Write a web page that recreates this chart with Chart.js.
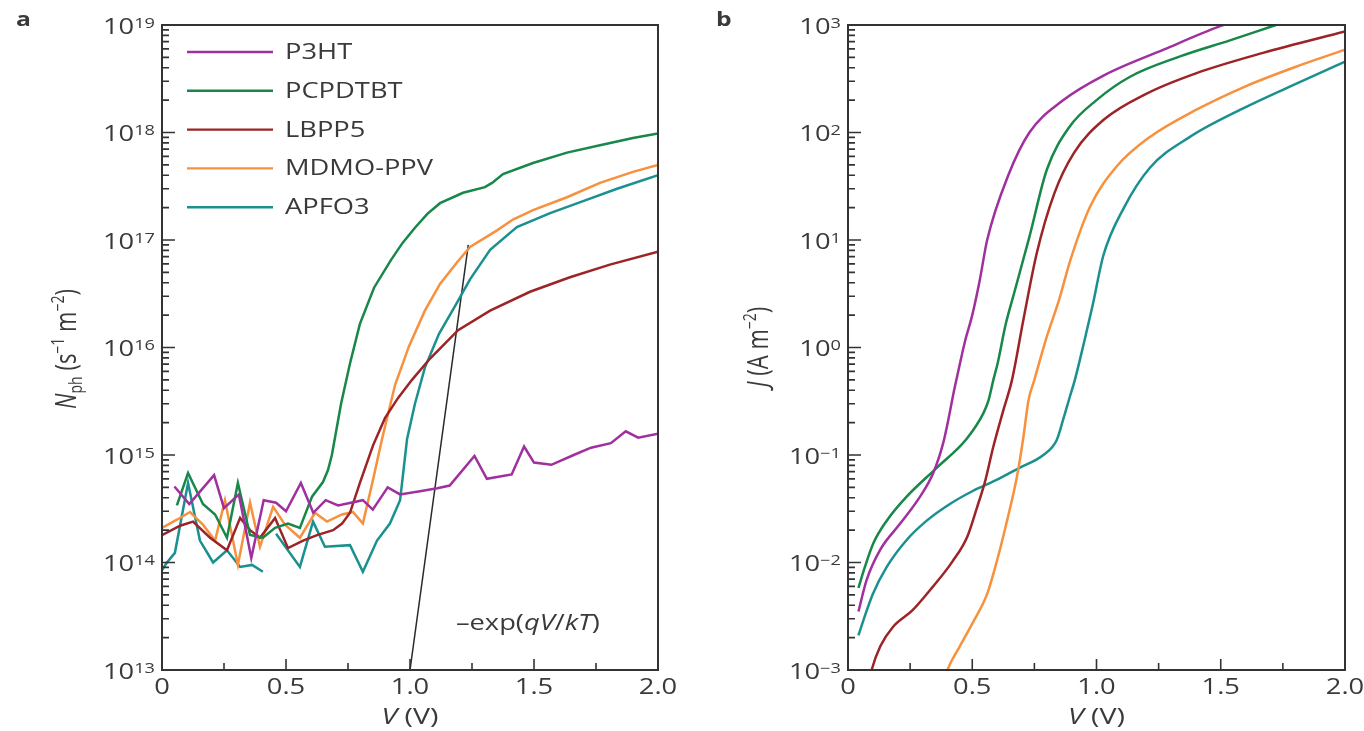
<!DOCTYPE html>
<html>
<head>
<meta charset="utf-8">
<script src="https://cdn.jsdelivr.net/npm/chart.js@4.4.1/dist/chart.umd.min.js"></script>
<style>
  body { margin: 0; background: #fff; }
  .panel { position: absolute; top: 0; width: 682px; height: 731px; }
</style>
</head>
<body>
<div class="panel" style="left:0"><canvas id="chartNph" width="682" height="731"></canvas></div>
<div class="panel" style="left:682px"><canvas id="chartJ" width="682" height="731"></canvas></div>
<script>
var series = ["P3HT", "PCPDTBT", "LBPP5", "MDMO-PPV", "APFO3"];
var colors = ["#a0309d", "#17874a", "#9c2426", "#f7913d", "#1b9090"];

// tick labels
var xTicks = [0, 0.5, 1.0, 1.5, 2.0];
var nphDecades = [13, 14, 15, 16, 17, 18, 19];
var jDecades = [-3, -2, -1, 0, 1, 2, 3];

// panel a: emitted photon flux vs voltage
var p3htV = [0.05, 0.11, 0.21, 0.25, 0.31, 0.36, 0.41, 0.46, 0.50, 0.56, 0.61, 0.66, 0.71, 0.81, 0.85, 0.91, 0.96, 1.04, 1.11, 1.16, 1.26, 1.31, 1.41, 1.46, 1.50, 1.57, 1.66, 1.73, 1.81, 1.87, 1.92, 2.00];
var p3htN = [5.1e14, 3.5e14, 6.5e14, 3.2e14, 4.3e14, 1.1e14, 3.8e14, 3.6e14, 3.0e14, 5.5e14, 2.9e14, 3.8e14, 3.4e14, 3.8e14, 3.1e14, 5.0e14, 4.3e14, 4.6e14, 4.9e14, 5.2e14, 9.8e14, 6.0e14, 6.6e14, 1.2e15, 8.5e14, 8.1e14, 1.0e15, 1.17e15, 1.29e15, 1.66e15, 1.45e15, 1.58e15];

var pcpdtbtV = [0.06, 0.105, 0.165, 0.214, 0.262, 0.306, 0.355, 0.407, 0.456, 0.508, 0.556, 0.605, 0.649, 0.669, 0.685, 0.722, 0.758, 0.798, 0.855, 0.923, 0.97, 1.02, 1.07, 1.121, 1.214, 1.302, 1.331, 1.375, 1.496, 1.633, 1.766, 1.899, 2.0];
var pcpdtbtN = [3.4e14, 6.8e14, 3.5e14, 2.8e14, 1.7e14, 5.5e14, 1.8e14, 1.7e14, 2.1e14, 2.3e14, 2.1e14, 4.1e14, 5.6e14, 7.2e14, 1.0e15, 3.0e15, 7.1e15, 1.66e16, 3.6e16, 6.5e16, 9.4e16, 1.3e17, 1.75e17, 2.2e17, 2.75e17, 3.1e17, 3.4e17, 4.1e17, 5.2e17, 6.5e17, 7.6e17, 8.9e17, 9.8e17];

var lbpp5V = [0, 0.073, 0.125, 0.194, 0.262, 0.315, 0.355, 0.395, 0.456, 0.508, 0.569, 0.625, 0.690, 0.726, 0.758, 0.798, 0.851, 0.899, 0.952, 1.008, 1.081, 1.194, 1.323, 1.484, 1.645, 1.806, 2.0];
var lbpp5N = [1.8e14, 2.2e14, 2.4e14, 1.7e14, 1.3e14, 2.6e14, 2.0e14, 1.7e14, 2.6e14, 1.36e14, 1.6e14, 1.8e14, 2.0e14, 2.3e14, 2.9e14, 5.5e14, 1.23e15, 2.2e15, 3.4e15, 5.0e15, 7.9e15, 1.45e16, 2.2e16, 3.3e16, 4.5e16, 5.9e16, 7.8e16];

var mdmoV = [0, 0.06, 0.113, 0.165, 0.214, 0.254, 0.306, 0.355, 0.395, 0.448, 0.496, 0.556, 0.617, 0.665, 0.726, 0.770, 0.810, 0.851, 0.887, 0.940, 0.996, 1.060, 1.121, 1.190, 1.242, 1.351, 1.415, 1.496, 1.633, 1.766, 1.899, 2.0];
var mdmoN = [2.1e14, 2.5e14, 2.95e14, 2.25e14, 1.6e14, 3.8e14, 9.5e13, 3.6e14, 1.4e14, 3.3e14, 2.25e14, 1.7e14, 2.9e14, 2.4e14, 2.8e14, 2.95e14, 2.3e14, 5.9e14, 1.4e15, 4.5e15, 1.03e16, 2.2e16, 3.9e16, 6.2e16, 8.6e16, 1.23e17, 1.55e17, 1.9e17, 2.5e17, 3.4e17, 4.3e17, 5.0e17];

var apfo3V = [0, 0.02, 0.052, 0.105, 0.153, 0.206, 0.262, 0.315, 0.363, 0.407, 0.43, 0.46, 0.556, 0.609, 0.657, 0.758, 0.810, 0.867, 0.919, 0.96, 0.988, 1.020, 1.060, 1.117, 1.185, 1.242, 1.323, 1.431, 1.565, 1.698, 1.835, 2.0];
var apfo3N = [8.5e13, 1.0e14, 1.23e14, 5.5e14, 1.6e14, 1.0e14, 1.3e14, 9.1e13, 9.5e13, 8.2e13, null, 1.85e14, 9.1e13, 2.4e14, 1.4e14, 1.45e14, 8.2e13, 1.6e14, 2.3e14, 3.8e14, 1.4e15, 3.0e15, 6.5e15, 1.34e16, 2.5e16, 4.3e16, 8.1e16, 1.32e17, 1.78e17, 2.3e17, 3.0e17, 4.0e17];

// exp(qV/kT) guide line
var expV = [1.0, 1.235];
var expN = [1e13, 9e16];

// panel b: current density vs voltage
var p3htJV = [0.042, 0.075, 0.13, 0.21, 0.29, 0.343, 0.383, 0.404, 0.424, 0.44, 0.47, 0.50, 0.53, 0.56, 0.645, 0.73, 0.86, 1.03, 1.27, 1.50, 1.55];
var p3htJ = [3.5e-3, 6.9e-3, 1.32e-2, 2.3e-2, 4.1e-2, 6.8e-2, 0.129, 0.214, 0.37, 0.55, 1.12, 2.0, 4.2, 10, 40, 100, 195, 340, 590, 980, 1070];

var pcpdtbtJV = [0.042, 0.068, 0.102, 0.156, 0.236, 0.357, 0.477, 0.545, 0.565, 0.585, 0.602, 0.635, 0.67, 0.73, 0.80, 0.89, 1.0, 1.135, 1.336, 1.537, 1.71, 1.76];
var pcpdtbtJ = [5.8e-3, 9.1e-3, 1.51e-2, 2.45e-2, 4.1e-2, 7.6e-2, 0.141, 0.245, 0.32, 0.50, 0.71, 1.66, 3.3, 10.7, 45, 112, 200, 330, 510, 720, 980, 1070];

var lbpp5JV = [0.085, 0.095, 0.13, 0.18, 0.26, 0.34, 0.42, 0.48, 0.52, 0.55, 0.585, 0.625, 0.66, 0.706, 0.76, 0.83, 0.91, 1.03, 1.20, 1.40, 1.67, 2.0];
var lbpp5J = [7.9e-4, 1.0e-3, 1.66e-3, 2.5e-3, 3.6e-3, 5.9e-3, 1.02e-2, 1.74e-2, 3.3e-2, 5.5e-2, 0.12, 0.26, 0.50, 1.82, 7.6, 27, 65, 132, 229, 355, 550, 870];

var mdmoJV = [0.39, 0.40, 0.45, 0.50, 0.56, 0.60, 0.64, 0.68, 0.706, 0.726, 0.75, 0.80, 0.85, 0.893, 0.974, 1.08, 1.215, 1.40, 1.60, 1.80, 2.0];
var mdmoJ = [8.3e-4, 1.0e-3, 1.66e-3, 2.7e-3, 5.1e-3, 1.05e-2, 2.45e-2, 6.3e-2, 0.148, 0.32, 0.50, 1.26, 2.8, 6.3, 20.4, 48, 91, 162, 269, 407, 589];

var apfo3JV = [0.042, 0.062, 0.10, 0.156, 0.236, 0.317, 0.41, 0.50, 0.60, 0.69, 0.786, 0.84, 0.866, 0.893, 0.913, 0.95, 0.985, 1.027, 1.108, 1.215, 1.376, 1.577, 1.78, 2.0];
var apfo3J = [2.1e-3, 2.9e-3, 5.1e-3, 9.1e-3, 1.62e-2, 2.45e-2, 3.5e-2, 4.6e-2, 5.9e-2, 7.6e-2, 0.10, 0.138, 0.214, 0.35, 0.50, 1.12, 2.5, 7.1, 19.5, 47, 91, 162, 269, 457];

var FONT = "'Open Sans', 'DejaVu Sans', sans-serif";
var INK = "#333";
var TEXT = "#3a3a3a";
var WIDE = 1.3; // the figure's lettering is set wide

function toPoints(xs, ys) {
  return xs.map(function (x, i) { return { x: x, y: ys[i] }; });
}

function partFont(p) {
  var size = p.size || ((p.sup || p.sub) ? 14 : 21);
  return (p.bold ? "bold " : "") + (p.italic ? "italic " : "") + size + "px " + FONT;
}

// draws a run of text pieces (italic / superscript / subscript) on one line;
// sx stretches along the run, sy across it
function richText(ctx, parts, x, y, align, sx, sy) {
  sx = sx || 1;
  sy = sy || 1;
  var widths = parts.map(function (p) {
    ctx.font = partFont(p);
    return ctx.measureText(p.t).width * sx;
  });
  var total = widths.reduce(function (a, b) { return a + b; }, 0);
  var cx = align === "center" ? x - total / 2 : (align === "right" ? x - total : x);
  ctx.textAlign = "left";
  ctx.textBaseline = "middle";
  parts.forEach(function (p, i) {
    var dy = p.dy !== undefined ? p.dy : (p.sup ? -7 : (p.sub ? 7 : 0));
    ctx.save();
    ctx.font = partFont(p);
    ctx.translate(cx, y + dy * sy);
    ctx.scale(sx, sy);
    ctx.fillText(p.t, 0, 0);
    ctx.restore();
    cx += widths[i];
  });
}

function expLabel(e) {
  return e < 0 ? "\u2212" + (-e) : String(e);
}

// frame, inward ticks, tick labels, titles and legend
var panelDecor = {
  id: "panelDecor",
  afterDraw: function (chart, args, opts) {
    var ctx = chart.ctx;
    var area = chart.chartArea;
    var xa = chart.scales.x;
    var ya = chart.scales.y;
    ctx.save();
    ctx.strokeStyle = INK;

    // inward ticks on the bottom axis
    ctx.lineWidth = 1.6;
    ctx.beginPath();
    xTicks.forEach(function (v, i) {
      var px = xa.getPixelForValue(v);
      if (i > 0 && i < xTicks.length - 1) {
        ctx.moveTo(px, area.bottom);
        ctx.lineTo(px, area.bottom - 11);
      }
      if (i < xTicks.length - 1) {
        var mx = xa.getPixelForValue((v + xTicks[i + 1]) / 2);
        ctx.moveTo(mx, area.bottom);
        ctx.lineTo(mx, area.bottom - 7);
      }
    });
    // inward ticks on the left (log) axis
    opts.decades.forEach(function (e, i) {
      var base = Math.pow(10, e);
      var py = ya.getPixelForValue(base);
      ctx.moveTo(area.left, py);
      ctx.lineTo(area.left + 13, py);
      if (i < opts.decades.length - 1) {
        for (var k = 2; k <= 9; k++) {
          var my = ya.getPixelForValue(k * base);
          ctx.moveTo(area.left, my);
          ctx.lineTo(area.left + 7, my);
        }
      }
    });
    ctx.stroke();

    // frame
    ctx.lineWidth = 2;
    ctx.strokeRect(area.left, area.top, area.right - area.left, area.bottom - area.top);

    ctx.fillStyle = TEXT;
    // x tick labels
    xTicks.forEach(function (v) {
      var label = v === 0 ? "0" : v.toFixed(1);
      richText(ctx, [{ t: label }], xa.getPixelForValue(v), area.bottom + 18, "center", WIDE);
    });
    // log tick labels
    opts.decades.forEach(function (e) {
      var py = ya.getPixelForValue(Math.pow(10, e));
      richText(ctx, [{ t: "10" }, { t: expLabel(e), sup: true, dy: -4 }], area.left - 7, py + 3, "right", WIDE);
    });

    // axis titles
    var midX = (area.left + area.right) / 2;
    richText(ctx, [{ t: "V", italic: true, size: 22 }, { t: " (V)", size: 22 }], midX, 718, "center", WIDE);
    ctx.save();
    ctx.translate(opts.yTitleX, opts.yTitleY);
    ctx.rotate(-Math.PI / 2);
    richText(ctx, opts.yTitle, 0, 0, "center", 1, WIDE);
    ctx.restore();

    // panel letter
    richText(ctx, [{ t: opts.letter, bold: true, size: 19 }], opts.letterX, 21, "left", WIDE);

    // legend
    if (opts.legend) {
      for (var i = 0; i < series.length; i++) {
        var ds = chart.data.datasets[i];
        var ly = area.top + 27 + i * 38.8;
        ctx.strokeStyle = ds.borderColor;
        ctx.lineWidth = 2.4;
        ctx.beginPath();
        ctx.moveTo(area.left + 25, ly);
        ctx.lineTo(area.left + 111, ly);
        ctx.stroke();
        ctx.fillStyle = TEXT;
        richText(ctx, [{ t: ds.label }], area.left + 123, ly + 1, "left", WIDE);
      }
    }

    // note next to the guide line
    if (opts.note) {
      ctx.fillStyle = TEXT;
      richText(ctx, opts.note.parts, xa.getPixelForValue(opts.note.x), ya.getPixelForValue(opts.note.y), "left", WIDE);
    }
    ctx.restore();
  }
};

function makeChart(id, datasets, yMin, yMax, decades, axisWidth, padRight, decor) {
  var ctx = document.getElementById(id).getContext("2d");
  return new Chart(ctx, {
    type: "line",
    data: { datasets: datasets },
    options: {
      responsive: false,
      animation: false,
      devicePixelRatio: 1,
      layout: { padding: { top: 25, right: padRight, left: 0, bottom: 0 } },
      elements: { point: { radius: 0 }, line: { borderWidth: 2.5 } },
      plugins: {
        legend: { display: false },
        tooltip: { enabled: false },
        panelDecor: decor
      },
      scales: {
        x: {
          type: "linear",
          min: 0,
          max: 2,
          grid: { display: false, drawTicks: false },
          border: { display: false },
          afterBuildTicks: function (scale) {
            scale.ticks = xTicks.map(function (v) { return { value: v }; });
          },
          afterFit: function (scale) { scale.height = 61; },
          ticks: { display: false }
        },
        y: {
          type: "logarithmic",
          min: yMin,
          max: yMax,
          grid: { display: false, drawTicks: false },
          border: { display: false },
          afterBuildTicks: function (scale) {
            scale.ticks = decades.map(function (e) { return { value: Math.pow(10, e) }; });
          },
          afterFit: function (scale) { scale.width = axisWidth; },
          ticks: { display: false }
        }
      }
    },
    plugins: [panelDecor]
  });
}

document.addEventListener("DOMContentLoaded", function () {
  var nphData = [
    [p3htV, p3htN], [pcpdtbtV, pcpdtbtN], [lbpp5V, lbpp5N], [mdmoV, mdmoN], [apfo3V, apfo3N]
  ];
  var nphSets = nphData.map(function (d, i) {
    return {
      label: series[i],
      data: toPoints(d[0], d[1]),
      borderColor: colors[i],
      fill: false,
      tension: 0,
      spanGaps: false
    };
  });
  nphSets.push({
    label: "exp(qV/kT)",
    data: toPoints(expV, expN),
    borderColor: "#2a2a2a",
    borderWidth: 1.5,
    fill: false,
    tension: 0
  });

  makeChart("chartNph", nphSets, 1e13, 1e19, nphDecades, 162, 24, {
    decades: nphDecades,
    letter: "a",
    letterX: 16,
    yTitleX: 68,
    yTitleY: 349,
    yTitle: [
      { t: "N", italic: true, size: 22 }, { t: "ph", sub: true }, { t: " (s", size: 22 }, { t: "\u22121", sup: true },
      { t: " m", size: 22 }, { t: "\u22122", sup: true }, { t: ")", size: 22 }
    ],
    legend: true,
    note: {
      x: 1.185,
      y: 2.7e13,
      parts: [{ t: "\u2013exp(" }, { t: "qV", italic: true }, { t: "/" }, { t: "kT", italic: true }, { t: ")" }]
    }
  });

  var jData = [
    [p3htJV, p3htJ], [pcpdtbtJV, pcpdtbtJ], [lbpp5JV, lbpp5J], [mdmoJV, mdmoJ], [apfo3JV, apfo3J]
  ];
  var jSets = jData.map(function (d, i) {
    return {
      label: series[i],
      data: toPoints(d[0], d[1]),
      borderColor: colors[i],
      fill: false,
      cubicInterpolationMode: "monotone"
    };
  });

  makeChart("chartJ", jSets, 1e-3, 1e3, jDecades, 166, 19, {
    decades: jDecades,
    letter: "b",
    letterX: 34,
    yTitleX: 78,
    yTitleY: 347,
    yTitle: [{ t: "J", italic: true, size: 22 }, { t: " (A m", size: 22 }, { t: "\u22122", sup: true }, { t: ")", size: 22 }],
    legend: false,
    note: null
  });
});
</script>
</body>
</html>
